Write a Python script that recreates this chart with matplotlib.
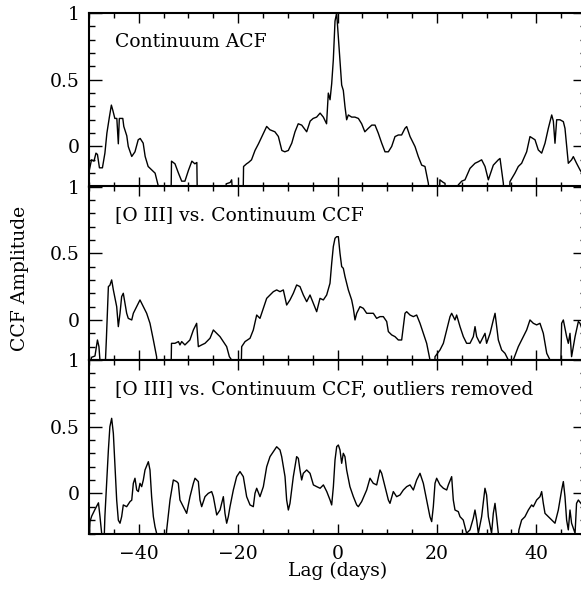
import matplotlib
matplotlib.use("Agg")
import matplotlib.pyplot as plt
from matplotlib.ticker import MultipleLocator, FuncFormatter

# ---------------- data ----------------
acf_lag = [-50.0, -49.5, -49.0, -48.6, -48.3, -47.9, -47.3, -46.8, -46.4, -45.9,
           -45.5, -45.2, -44.8, -44.4, -44.1, -43.9, -43.2, -43.0, -42.4, -42.1,
           -41.4, -40.75, -40.1, -39.7, -39.1, -38.7, -38.1, -37.4, -36.7, -36.1, -36.0,
           -33.5, -33.4, -32.7, -32.0, -31.35, -30.7, -30.0, -29.3, -28.7, -28.3, -28.2,
           -22.5, -22.4, -21.6, -21.3, -21.0,
           -19.0, -18.9, -18.3, -17.9, -17.3, -16.6, -15.9, -15.26, -14.6, -14.25,
           -13.6, -12.6, -11.9, -11.2, -10.6, -9.9, -9.2, -8.55, -7.9, -7.2,
           -6.2, -5.5, -4.9, -4.2, -3.5, -2.85, -2.2, -1.85, -1.5, -1.17,
           -0.84, -0.5, -0.17, 0.17, 0.5, 0.84, 1.17, 1.5, 1.84, 2.18,
           2.85, 3.5, 4.2, 4.86, 5.5, 6.2, 6.9, 7.55, 8.2, 8.9,
           9.56, 10.23, 10.9, 11.57, 12.24, 12.9, 13.58, 13.92, 14.6, 15.6,
           16.26, 16.94, 17.6, 18.28, 18.5,
           20.5, 20.6, 21.3, 21.63, 21.8,
           24.2, 24.3, 25.0, 25.65, 26.66, 27.67, 28.34, 29.0, 29.68, 30.35,
           31.35, 32.36, 32.7, 33.37, 33.5,
           34.6, 34.7, 35.7, 36.38, 37.05, 38.06, 38.73, 39.74, 40.4, 41.08,
           41.75, 42.42, 43.1, 43.43, 43.76, 44.1, 44.77, 45.44, 45.77, 46.44,
           47.1, 47.45, 48.1, 48.8, 49.2, 50.0]
acf_val = [-0.19, -0.10, -0.11, -0.05, -0.06, -0.16, -0.16, -0.05, 0.10, 0.22,
           0.31, 0.27, 0.21, 0.21, 0.02, 0.21, 0.21, 0.15, 0.08, 0.00,
           -0.075, -0.04, 0.05, 0.06, 0.025, -0.075, -0.15, -0.175, -0.20, -0.29, -0.40,
           -0.40, -0.11, -0.13, -0.20, -0.26, -0.26, -0.18, -0.11, -0.13, -0.12, -0.40,
           -0.40, -0.28, -0.27, -0.25, -0.40,
           -0.40, -0.15, -0.13, -0.12, -0.10, -0.03, 0.02, 0.07, 0.12, 0.15,
           0.125, 0.11, 0.075, -0.03, -0.04, -0.03, 0.025, 0.11, 0.17, 0.16,
           0.11, 0.19, 0.21, 0.22, 0.25, 0.22, 0.17, 0.40, 0.35, 0.47,
           0.65, 0.94, 1.00, 0.82, 0.65, 0.46, 0.42, 0.30, 0.20, 0.236,
           0.22, 0.22, 0.21, 0.17, 0.11, 0.136, 0.16, 0.16, 0.10, 0.024,
           -0.04, -0.04, 0.00, 0.074, 0.086, 0.086, 0.136, 0.149, 0.074, -0.001,
           -0.076, -0.14, -0.15, -0.276, -0.40,
           -0.40, -0.25, -0.27, -0.276, -0.40,
           -0.40, -0.288, -0.26, -0.25, -0.164, -0.126, -0.114, -0.10, -0.15, -0.25,
           -0.14, -0.10, -0.09, -0.276, -0.40,
           -0.40, -0.263, -0.20, -0.15, -0.126, -0.04, 0.074, 0.05, -0.026, -0.05,
           0.024, 0.136, 0.236, 0.19, 0.024, 0.20, 0.20, 0.186, 0.136, -0.126,
           -0.10, -0.076, -0.126, -0.176, -0.20, -0.20]

ccf_lag = [-50.0, -49.5, -48.8, -48.3, -48.0, -47.6, -46.8, -46.5, -46.1, -45.8,
           -45.44, -45.1, -44.43, -44.1, -43.76, -43.43, -43.1, -42.76, -42.42, -42.1,
           -41.4, -41.08, -40.4, -39.74, -39.07, -38.4, -37.73, -37.05, -36.4, -36.2,
           -33.5, -33.4, -32.7, -32.0, -31.7, -31.35, -30.7, -29.7, -29.0, -28.34,
           -28.0, -27.33, -26.66, -25.65, -24.98, -24.3, -23.64, -22.97, -22.3, -21.76,
           -21.3, -21.1,
           -19.4, -19.28, -18.6, -17.6, -16.94, -16.26, -15.6, -14.92, -14.25, -13.58,
           -12.91, -12.24, -11.57, -10.9, -10.23, -9.56, -8.89, -8.22, -7.55, -6.87,
           -6.2, -5.53, -4.86, -4.19, -3.52, -2.85, -2.18, -1.51, -1.17, -0.84,
           -0.5, -0.17, 0.17, 0.5, 0.84, 1.17, 1.51, 1.84, 2.18, 2.52,
           2.85, 3.19, 3.52, 3.86, 4.53, 5.2, 5.87, 6.54, 7.21, 7.88,
           8.55, 9.22, 9.9, 10.23, 10.9, 11.57, 12.24, 12.91, 13.25, 13.58,
           13.92, 14.59, 15.26, 15.93, 16.6, 17.27, 17.94, 18.61, 18.8,
           19.5, 19.62, 20.62, 21.3, 21.96, 22.64, 22.97, 23.3, 23.64, 23.97,
           24.65, 25.32, 25.98, 26.66, 27.33, 27.67, 28.0, 28.67, 29.34, 29.68,
           30.0, 30.7, 31.35, 31.7, 32.36, 33.03, 33.7, 34.37, 34.5,
           35.2, 35.37, 36.38, 37.05, 38.06, 38.73, 39.4, 40.07, 40.74, 41.41,
           42.1, 42.76, 42.9,
           44.9, 45.1, 45.44, 45.77, 46.1, 46.44, 46.78, 47.1, 47.8, 48.46,
           48.8, 49.5, 50.0]
ccf_val = [-0.40, -0.28, -0.27, -0.15, -0.20, -0.40, -0.40, -0.14, 0.25, 0.26,
           0.30, 0.225, 0.10, -0.05, 0.05, 0.175, 0.20, 0.125, 0.05, 0.012,
           0.00, 0.05, 0.10, 0.15, 0.10, 0.05, -0.025, -0.15, -0.275, -0.40,
           -0.40, -0.175, -0.175, -0.162, -0.187, -0.162, -0.187, -0.15, -0.075, -0.025,
           -0.20, -0.187, -0.175, -0.137, -0.075, -0.10, -0.125, -0.162, -0.20, -0.275,
           -0.30, -0.40,
           -0.40, -0.20, -0.162, -0.137, -0.075, 0.037, 0.012, 0.087, 0.162, 0.187,
           0.212, 0.225, 0.212, 0.225, 0.112, 0.15, 0.20, 0.262, 0.25, 0.187,
           0.137, 0.187, 0.125, 0.062, 0.162, 0.15, 0.187, 0.275, 0.424, 0.55,
           0.612, 0.624, 0.624, 0.50, 0.40, 0.387, 0.325, 0.275, 0.225, 0.187,
           0.15, 0.087, 0.00, 0.05, 0.10, 0.087, 0.05, 0.05, 0.05, 0.012,
           0.025, 0.025, -0.012, -0.087, -0.112, -0.125, -0.15, -0.15, -0.05, 0.05,
           0.062, 0.037, 0.025, 0.037, -0.025, -0.10, -0.175, -0.30, -0.40,
           -0.40, -0.275, -0.225, -0.175, -0.075, 0.025, 0.05, 0.025, 0.00, 0.037,
           -0.05, -0.125, -0.175, -0.175, -0.125, -0.05, -0.125, -0.175, -0.125, -0.10,
           -0.175, -0.10, 0.00, 0.05, -0.15, -0.225, -0.25, -0.30, -0.40,
           -0.40, -0.30, -0.20, -0.15, -0.075, 0.00, -0.025, -0.037, -0.025, -0.10,
           -0.25, -0.30, -0.40,
           -0.40, -0.025, 0.00, -0.062, -0.125, -0.175, -0.10, -0.275, -0.125, -0.012,
           -0.025, -0.10, -0.10]

clean_lag = [-50.0, -49.8, -49.46, -48.8, -48.1, -47.8, -47.45, -47.3, -47.0, -46.8,
             -46.45, -46.1, -45.8, -45.44, -45.1, -44.77, -44.43, -44.1, -43.76, -43.43,
             -43.1, -42.42, -41.75, -41.4, -41.08, -40.75, -40.4, -40.07, -39.74, -39.4,
             -39.07, -38.73, -38.06, -37.73, -37.4, -37.05, -36.72, -36.4, -36.2,
             -34.6, -34.37, -33.7, -33.03, -32.36, -32.03, -31.7, -31.02, -30.35, -29.68,
             -29.0, -28.67, -28.0, -27.67, -27.33, -26.66, -26.0, -25.32, -24.98, -24.3,
             -23.64, -23.3, -22.97, -22.64, -22.3, -21.97, -21.63, -20.96, -20.29, -19.62,
             -18.95, -18.28, -17.6, -16.94, -16.6, -16.26, -15.6, -14.92, -14.25, -13.58,
             -12.91, -12.24, -11.57, -11.23, -10.56, -10.23, -9.89, -9.56, -8.89, -8.22,
             -7.88, -7.55, -7.21,
             -6.88, -6.2, -5.53, -4.85, -4.18, -3.5, -2.84, -2.16, -1.5, -1.17,
             -0.83, -0.5, -0.16, 0.17, 0.5, 0.84, 1.17, 1.5, 1.84, 2.5,
             3.19, 3.86, 4.19, 4.86, 5.87, 6.54, 7.2, 7.88, 8.55, 8.89,
             9.56, 10.23, 10.56, 11.23, 11.9, 12.58, 13.25, 13.92, 14.59, 15.26,
             15.93, 16.6, 17.27, 17.94, 18.6, 18.95, 19.28, 19.62, 19.95, 20.62,
             21.3, 21.97, 22.3, 22.97, 23.3, 23.64, 24.3, 24.65, 25.3, 25.98,
             26.65, 27.32, 27.66, 28.0, 28.33, 29.0, 29.67, 30.0, 30.35, 31.0,
             31.35, 31.69, 32.0, 32.36, 32.5,
             36.2, 36.5, 37.05, 37.72, 38.4, 39.06, 39.4, 40.07, 40.74, 41.08,
             41.41, 41.75, 42.42, 43.1, 43.76, 44.43, 45.1, 45.44, 45.77, 46.1,
             46.44, 46.78, 47.1, 47.8, 48.1, 48.46, 49.5, 50.0]
clean_val = [-0.40, -0.21, -0.17, -0.12, -0.07, -0.17, -0.30, -0.40, -0.40, -0.17,
             0.076, 0.326, 0.50, 0.563, 0.45, 0.20, -0.05, -0.20, -0.223, -0.174,
             -0.086, -0.099, -0.061, -0.05, 0.076, 0.114, 0.026, 0.014, 0.076, 0.051,
             0.101, 0.176, 0.238, 0.176, -0.024, -0.174, -0.249, -0.298, -0.40,
             -0.40, -0.273, -0.049, 0.101, 0.089, 0.076, -0.049, -0.099, -0.149, -0.024,
             0.076, 0.114, 0.089, -0.049, -0.099, -0.024, 0.001, 0.014, -0.024, -0.161,
             -0.124, -0.074, -0.024, -0.149, -0.223, -0.174, -0.099, 0.026, 0.126, 0.164,
             0.126, -0.024, -0.086, -0.099, 0.001, 0.039, -0.024, 0.051, 0.20, 0.276,
             0.313, 0.35, 0.326, 0.276, 0.126, -0.049, -0.124, -0.074, 0.126, 0.276,
             0.263, 0.176, 0.101,
             0.151, 0.176, 0.151, 0.064, 0.051, 0.039, 0.064, 0.014, -0.049, -0.086,
             0.051, 0.251, 0.351, 0.363, 0.326, 0.226, 0.301, 0.276, 0.176, 0.051,
             -0.024, -0.086, -0.099, -0.061, 0.026, 0.114, 0.076, 0.064, 0.176, 0.151,
             0.051, -0.049, -0.074, 0.014, -0.024, -0.011, 0.026, 0.051, 0.064, 0.026,
             0.101, 0.151, 0.076, -0.049, -0.174, -0.211, -0.099, 0.076, 0.114, 0.064,
             0.039, 0.026, 0.064, 0.126, -0.049, -0.124, -0.136, -0.174, -0.199, -0.298,
             -0.273, -0.186, -0.124, -0.199, -0.298, -0.174, 0.039, -0.011, -0.174, -0.298,
             -0.149, -0.074, -0.174, -0.298, -0.40,
             -0.40, -0.273, -0.199, -0.174, -0.124, -0.086, -0.099, -0.049, -0.024, 0.014,
             -0.074, -0.149, -0.174, -0.199, -0.223, -0.124, 0.026, 0.089, -0.024, -0.199,
             -0.273, -0.124, -0.223, -0.298, -0.074, -0.049, -0.10, -0.10]

panel_titles = ["Continuum ACF",
                "[O III] vs. Continuum CCF",
                "[O III] vs. Continuum CCF, outliers removed"]
x_label = "Lag (days)"
y_label = "CCF Amplitude"

series = [(acf_lag, acf_val), (ccf_lag, ccf_val), (clean_lag, clean_val)]
for lg, vl in series:
    assert len(lg) == len(vl), (len(lg), len(vl))

# ---------------- figure ----------------
W, H = 581, 590
plt.rcParams["font.family"] = ["DejaVu Serif"]
plt.rcParams["mathtext.fontset"] = "dejavuserif"
FS = 13.5

fig = plt.figure(figsize=(W / 100, H / 100), dpi=100)

left_px, right_px = 89, 586
tops = [13, 186.5, 360]
ph = 173.5

def fmt(v, pos):
    return "%g" % v

axes = []
for i, (lg, vl) in enumerate(series):
    top = tops[i]
    ax = fig.add_axes([left_px / W, 1 - (top + ph) / H,
                       (right_px - left_px) / W, ph / H])
    ax.plot(lg, vl, color="black", lw=1.0)
    ax.set_xlim(-50, 50)
    ax.set_ylim(-0.3, 1.0)
    ax.xaxis.set_major_locator(MultipleLocator(20))
    ax.xaxis.set_minor_locator(MultipleLocator(5))
    ax.yaxis.set_major_locator(MultipleLocator(0.5))
    ax.yaxis.set_minor_locator(MultipleLocator(0.1))
    ax.yaxis.set_major_formatter(FuncFormatter(fmt))
    ax.tick_params(which="both", direction="in", top=True, right=True,
                   width=1.0, colors="black", labelsize=FS)
    ax.tick_params(axis="x", which="major", length=7.5, pad=8.5)
    ax.tick_params(axis="x", which="minor", length=3.8)
    ax.tick_params(axis="y", which="major", length=9.3, pad=7)
    ax.tick_params(axis="y", which="minor", length=4.4)
    if i < 2:
        ax.tick_params(axis="x", labelbottom=False)
    for s in ax.spines.values():
        s.set_linewidth(1.5)
    ax.text(0.053, 0.833, panel_titles[i], transform=ax.transAxes,
            fontsize=FS, ha="left", va="center")
    axes.append(ax)

fig.text(20 / W, 1 - 278 / H, y_label, rotation=90, fontsize=FS,
         ha="center", va="center")
fig.text(337.5 / W, 1 - 571 / H, x_label, fontsize=FS,
         ha="center", va="center")

fig.savefig("out.png", dpi=100, facecolor="white")
